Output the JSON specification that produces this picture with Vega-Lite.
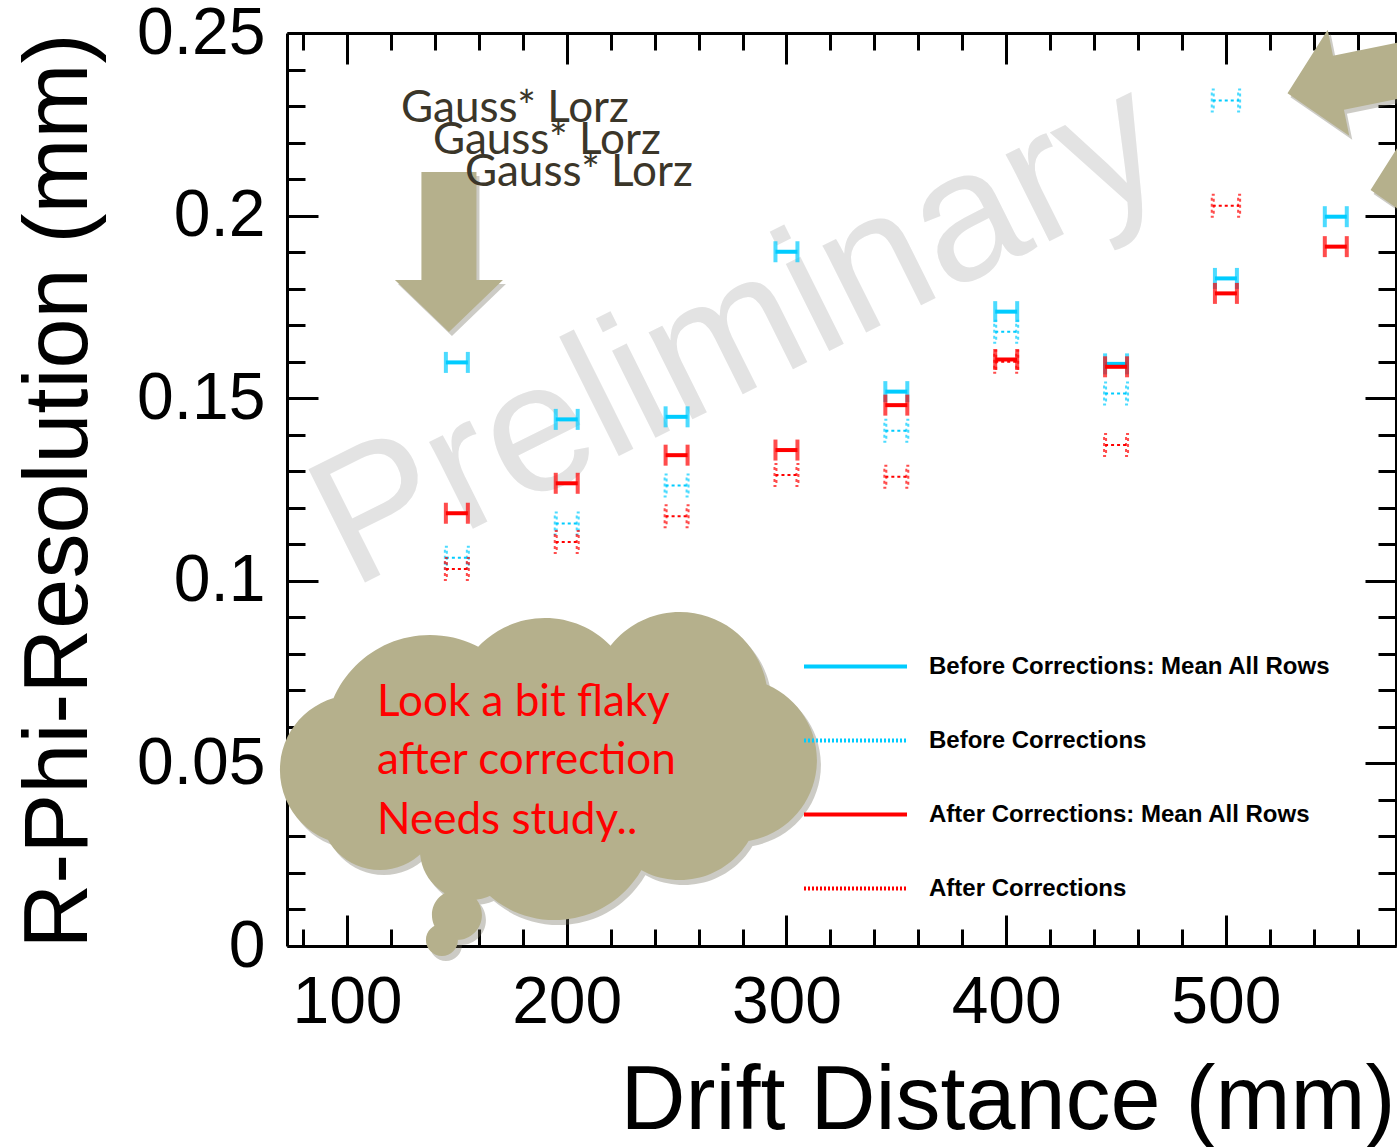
{
  "$schema": "https://vega.github.io/schema/vega-lite/v6.json",
  "width": 1109,
  "height": 913,
  "autosize": {"type": "none"},
  "padding": {"left": 287, "top": 33, "right": 1, "bottom": 201},
  "background": "white",
  "config": {"view": {"stroke": null}, "font": "Liberation Sans"},
  "datasets": {
    "pts": [
      {"series": "Before Corrections: Mean All Rows", "x": 150, "y": 0.1598, "xerr": 5},
      {"series": "Before Corrections: Mean All Rows", "x": 200, "y": 0.1442, "xerr": 5},
      {"series": "Before Corrections: Mean All Rows", "x": 250, "y": 0.1449, "xerr": 5},
      {"series": "Before Corrections: Mean All Rows", "x": 300, "y": 0.1901, "xerr": 5},
      {"series": "Before Corrections: Mean All Rows", "x": 350, "y": 0.1518, "xerr": 5},
      {"series": "Before Corrections: Mean All Rows", "x": 400, "y": 0.1737, "xerr": 5},
      {"series": "Before Corrections: Mean All Rows", "x": 450, "y": 0.1594, "xerr": 5},
      {"series": "Before Corrections: Mean All Rows", "x": 500, "y": 0.1828, "xerr": 5},
      {"series": "Before Corrections: Mean All Rows", "x": 550, "y": 0.1997, "xerr": 5},
      {"series": "Before Corrections", "x": 150, "y": 0.1063, "xerr": 5},
      {"series": "Before Corrections", "x": 200, "y": 0.1157, "xerr": 5},
      {"series": "Before Corrections", "x": 250, "y": 0.1261, "xerr": 5},
      {"series": "Before Corrections", "x": 350, "y": 0.1411, "xerr": 5},
      {"series": "Before Corrections", "x": 400, "y": 0.1682, "xerr": 5},
      {"series": "Before Corrections", "x": 450, "y": 0.1513, "xerr": 5},
      {"series": "Before Corrections", "x": 500, "y": 0.2315, "xerr": 6},
      {"series": "After Corrections: Mean All Rows", "x": 150, "y": 0.1185, "xerr": 5},
      {"series": "After Corrections: Mean All Rows", "x": 200, "y": 0.1267, "xerr": 5},
      {"series": "After Corrections: Mean All Rows", "x": 250, "y": 0.1344, "xerr": 5},
      {"series": "After Corrections: Mean All Rows", "x": 300, "y": 0.1358, "xerr": 5},
      {"series": "After Corrections: Mean All Rows", "x": 350, "y": 0.1481, "xerr": 5},
      {"series": "After Corrections: Mean All Rows", "x": 400, "y": 0.1606, "xerr": 5},
      {"series": "After Corrections: Mean All Rows", "x": 450, "y": 0.1586, "xerr": 5},
      {"series": "After Corrections: Mean All Rows", "x": 500, "y": 0.1787, "xerr": 5},
      {"series": "After Corrections: Mean All Rows", "x": 550, "y": 0.1915, "xerr": 5},
      {"series": "After Corrections", "x": 150, "y": 0.1032, "xerr": 5},
      {"series": "After Corrections", "x": 200, "y": 0.1106, "xerr": 5},
      {"series": "After Corrections", "x": 250, "y": 0.1177, "xerr": 5},
      {"series": "After Corrections", "x": 300, "y": 0.1290, "xerr": 5},
      {"series": "After Corrections", "x": 350, "y": 0.1285, "xerr": 5},
      {"series": "After Corrections", "x": 400, "y": 0.1600, "xerr": 5},
      {"series": "After Corrections", "x": 450, "y": 0.1372, "xerr": 5},
      {"series": "After Corrections", "x": 500, "y": 0.2027, "xerr": 6}
    ],
    "watermark": [{"label": "Preliminary", "x": 278.3, "y": 0.1674}],
    "arrowDown": [{"x": 146.4, "y": 0.190}],
    "arrowsLeft": [{"x": 563.7, "y": 0.2379}, {"x": 601.5, "y": 0.2114}],
    "cloud": [{"x": 191.9, "y": 0.0468}],
    "cloudText": [
      {"label": "Look a bit flaky", "x": 113.7, "y": 0.0630},
      {"label": "after correction", "x": 113.7, "y": 0.0471},
      {"label": "Needs study..", "x": 113.7, "y": 0.0307}
    ],
    "gauss": [
      {"label": "Gauss* Lorz", "x": 124.6, "y": 0.2256},
      {"label": "Gauss* Lorz", "x": 139.1, "y": 0.2169},
      {"label": "Gauss* Lorz", "x": 153.7, "y": 0.2081}
    ]
  },
  "layer": [
    {
      "data": {"name": "watermark"},
      "mark": {"type": "text", "angle": 333.5, "fontSize": 184, "font": "Liberation Sans", "color": "#e3e3e3", "align": "center", "baseline": "middle"},
      "encoding": {
        "x": {"field": "x", "type": "quantitative", "scale": {"domain": [72.7, 577.4], "nice": false, "zero": false},
          "axis": {"orient": "bottom", "values": [80,100,120,140,160,180,200,220,240,260,280,300,320,340,360,380,400,420,440,460,480,500,520,540,560],
            "labelExpr": "datum.value % 100 === 0 ? datum.label : ''",
            "tickSize": {"condition": {"test": "datum.value % 100 === 0", "value": -31}, "value": -17},
            "tickWidth": 3, "tickColor": "black", "domainWidth": 3, "domainColor": "black",
            "labelFont": "Liberation Sans", "labelFontSize": 66, "labelColor": "black", "labelPadding": 55,
            "labelFlush": false, "labelOverlap": false, "labelBound": false, "grid": false,
            "title": "Drift Distance (mm)", "titleFont": "Liberation Sans", "titleFontSize": 90, "titleFontWeight": "normal", "titleColor": "black",
            "titleAnchor": "end", "titleAlign": "right", "titleBaseline": "alphabetic", "titleX": 1108, "titleY": 182}},
        "y": {"field": "y", "type": "quantitative", "scale": {"domain": [0, 0.25], "nice": false, "zero": false},
          "axis": {"orient": "left", "values": [0,0.01,0.02,0.03,0.04,0.05,0.06,0.07,0.08,0.09,0.1,0.11,0.12,0.13,0.14,0.15,0.16,0.17,0.18,0.19,0.2,0.21,0.22,0.23,0.24,0.25],
            "format": "~g",
            "labelExpr": "abs(datum.value*20-round(datum.value*20)) < 0.001 ? datum.label : ''",
            "tickSize": {"condition": {"test": "abs(datum.value*20-round(datum.value*20)) < 0.001", "value": -31}, "value": -18},
            "tickWidth": 3, "tickColor": "black", "domainWidth": 3, "domainColor": "black",
            "labelFont": "Liberation Sans", "labelFontSize": 66, "labelColor": "black", "labelPadding": 53,
            "labelFlush": false, "labelOverlap": false, "labelBound": false, "grid": false,
            "title": "R-Phi-Resolution (mm)", "titleFont": "Liberation Sans", "titleFontSize": 90, "titleFontWeight": "normal", "titleColor": "black",
            "titleAngle": 270, "titleAnchor": "end", "titleAlign": "right", "titleBaseline": "alphabetic", "titleX": -201, "titleY": 0}},
        "text": {"field": "label", "type": "nominal"}
      }
    },
    {
      "data": {"name": "arrowDown"},
      "mark": {"type": "point", "shape": "M-0.344,-1L0.344,-1L0.344,0.35L0.675,0.35L0,1L-0.675,0.35L-0.344,0.35Z", "size": 25600, "filled": true, "color": "#6e6a58", "opacity": 0.35, "strokeWidth": 0, "xOffset": 3, "yOffset": 4},
      "encoding": {
        "x": {"field": "x", "type": "quantitative", "scale": {"domain": [72.7, 577.4], "nice": false, "zero": false},
          "axis": {"orient": "top", "values": [80,100,120,140,160,180,200,220,240,260,280,300,320,340,360,380,400,420,440,460,480,500,520,540,560],
            "labels": false,
            "tickSize": {"condition": {"test": "datum.value % 100 === 0", "value": -31}, "value": -17},
            "tickWidth": 3, "tickColor": "black", "domainWidth": 3, "domainColor": "black", "grid": false, "title": null}},
        "y": {"field": "y", "type": "quantitative", "scale": {"domain": [0, 0.25], "nice": false, "zero": false},
          "axis": {"orient": "right", "values": [0,0.01,0.02,0.03,0.04,0.05,0.06,0.07,0.08,0.09,0.1,0.11,0.12,0.13,0.14,0.15,0.16,0.17,0.18,0.19,0.2,0.21,0.22,0.23,0.24,0.25],
            "labels": false,
            "tickSize": {"condition": {"test": "abs(datum.value*20-round(datum.value*20)) < 0.001", "value": -31}, "value": -18},
            "tickWidth": 3, "tickColor": "black", "domainWidth": 3, "domainColor": "black", "grid": false, "title": null}}
      }
    },
    {
      "data": {"name": "arrowDown"},
      "mark": {"type": "point", "shape": "M-0.344,-1L0.344,-1L0.344,0.35L0.675,0.35L0,1L-0.675,0.35L-0.344,0.35Z", "size": 25600, "filled": true, "color": "#b5b08c", "opacity": 1, "strokeWidth": 0},
      "encoding": {
        "x": {"field": "x", "type": "quantitative", "axis": null},
        "y": {"field": "y", "type": "quantitative", "axis": null}
      }
    },
    {
      "data": {"name": "pts"},
      "transform": [{"filter": "datum.series === 'Before Corrections'"}],
      "mark": {"type": "errorbar", "color": "#00ccff", "size": 22, "thickness": 2, "ticks": {"filled": false, "strokeDash": [3, 3], "strokeWidth": 2}, "rule": {"strokeDash": [3, 3]}},
      "encoding": {
        "x": {"field": "x", "type": "quantitative", "axis": null},
        "xError": {"field": "xerr"},
        "y": {"field": "y", "type": "quantitative", "axis": null}
      }
    },
    {
      "data": {"name": "pts"},
      "transform": [{"filter": "datum.series === 'Before Corrections: Mean All Rows'"}],
      "mark": {"type": "errorbar", "color": "#00ccff", "size": 21, "thickness": 4, "ticks": true},
      "encoding": {
        "x": {"field": "x", "type": "quantitative", "axis": null},
        "xError": {"field": "xerr"},
        "y": {"field": "y", "type": "quantitative", "axis": null}
      }
    },
    {
      "data": {"name": "pts"},
      "transform": [{"filter": "datum.series === 'After Corrections'"}],
      "mark": {"type": "errorbar", "color": "#ff0000", "size": 22, "thickness": 2, "ticks": {"filled": false, "strokeDash": [3, 3], "strokeWidth": 2}, "rule": {"strokeDash": [3, 3]}},
      "encoding": {
        "x": {"field": "x", "type": "quantitative", "axis": null},
        "xError": {"field": "xerr"},
        "y": {"field": "y", "type": "quantitative", "axis": null}
      }
    },
    {
      "data": {"name": "pts"},
      "transform": [{"filter": "datum.series === 'After Corrections: Mean All Rows'"}],
      "mark": {"type": "errorbar", "color": "#ff0000", "size": 21, "thickness": 4, "ticks": true},
      "encoding": {
        "x": {"field": "x", "type": "quantitative", "axis": null},
        "xError": {"field": "xerr"},
        "y": {"field": "y", "type": "quantitative", "axis": null}
      }
    },
    {
      "data": {"name": "pts"},
      "mark": {"type": "line"},
      "encoding": {
        "x": {"field": "x", "type": "quantitative", "axis": null},
        "y": {"field": "y", "type": "quantitative", "axis": null},
        "detail": {"field": "x", "type": "nominal"},
        "color": {"field": "series", "type": "nominal",
          "scale": {"domain": ["Before Corrections: Mean All Rows", "Before Corrections", "After Corrections: Mean All Rows", "After Corrections"], "range": ["#00ccff", "#00ccff", "#ff0000", "#ff0000"]},
          "legend": {"orient": "none", "legendX": 515, "legendY": 580, "direction": "vertical", "title": null, "padding": 0,
            "symbolType": "stroke", "symbolSize": 10609, "symbolStrokeWidth": 4,
            "labelFont": "Liberation Sans", "labelFontSize": 24, "labelFontWeight": "bold", "labelColor": "black", "labelOffset": 20, "labelLimit": 600,
            "rowPadding": 8}},
        "strokeDash": {"field": "series", "type": "nominal",
          "scale": {"domain": ["Before Corrections: Mean All Rows", "Before Corrections", "After Corrections: Mean All Rows", "After Corrections"], "range": [[1, 0], [2, 2], [1, 0], [2, 2]]},
          "legend": {"orient": "none", "legendX": 515, "legendY": 580, "direction": "vertical", "title": null, "padding": 0,
            "symbolType": "stroke", "symbolSize": 10609, "symbolStrokeWidth": 4,
            "labelFont": "Liberation Sans", "labelFontSize": 24, "labelFontWeight": "bold", "labelColor": "black", "labelOffset": 20, "labelLimit": 600,
            "rowPadding": 8}}
      }
    },
    {
      "data": {"name": "cloud"},
      "mark": {"type": "point", "filled": true, "color": "#6e6a58", "opacity": 0.35, "strokeWidth": 0, "size": 291600, "xOffset": 4, "yOffset": 5,
        "shape": "M-0.8296,-0.1296A0.3889,0.3889,0,1,0,-0.0518,-0.1296A0.3889,0.3889,0,1,0,-0.8296,-0.1296ZM-0.3555,-0.2407A0.3407,0.3407,0,1,0,0.3259,-0.2407A0.3407,0.3407,0,1,0,-0.3555,-0.2407ZM0.1593,-0.2778A0.3259,0.3259,0,1,0,0.8111,-0.2778A0.3259,0.3259,0,1,0,0.1593,-0.2778ZM0.3852,-0.0556A0.3037,0.3037,0,1,0,0.9926,-0.0556A0.3037,0.3037,0,1,0,0.3852,-0.0556ZM-0.9963,-0.0185A0.2778,0.2778,0,1,0,-0.4407,-0.0185A0.2778,0.2778,0,1,0,-0.9963,-0.0185ZM-0.8481,0.1296A0.2222,0.2222,0,1,0,-0.4037,0.1296A0.2222,0.2222,0,1,0,-0.8481,0.1296ZM-0.3482,0.1667A0.3704,0.3704,0,1,0,0.3926,0.1667A0.3704,0.3704,0,1,0,-0.3482,0.1667ZM0.1889,0.0926A0.2963,0.2963,0,1,0,0.7815,0.0926A0.2963,0.2963,0,1,0,0.1889,0.0926ZM-0.4037,-0.0185A0.3704,0.3704,0,1,0,0.3371,-0.0185A0.3704,0.3704,0,1,0,-0.4037,-0.0185ZM-0.4778,0.2778A0.1852,0.1852,0,1,0,-0.1074,0.2778A0.1852,0.1852,0,1,0,-0.4778,0.2778ZM-0.4333,0.5185A0.0926,0.0926,0,1,0,-0.2481,0.5185A0.0926,0.0926,0,1,0,-0.4333,0.5185ZM-0.4556,0.6111A0.0593,0.0593,0,1,0,-0.337,0.6111A0.0593,0.0593,0,1,0,-0.4556,0.6111Z"},
      "encoding": {
        "x": {"field": "x", "type": "quantitative", "axis": null},
        "y": {"field": "y", "type": "quantitative", "axis": null}
      }
    },
    {
      "data": {"name": "cloud"},
      "mark": {"type": "point", "filled": true, "color": "#b5b08c", "opacity": 1, "strokeWidth": 0, "size": 291600,
        "shape": "M-0.8296,-0.1296A0.3889,0.3889,0,1,0,-0.0518,-0.1296A0.3889,0.3889,0,1,0,-0.8296,-0.1296ZM-0.3555,-0.2407A0.3407,0.3407,0,1,0,0.3259,-0.2407A0.3407,0.3407,0,1,0,-0.3555,-0.2407ZM0.1593,-0.2778A0.3259,0.3259,0,1,0,0.8111,-0.2778A0.3259,0.3259,0,1,0,0.1593,-0.2778ZM0.3852,-0.0556A0.3037,0.3037,0,1,0,0.9926,-0.0556A0.3037,0.3037,0,1,0,0.3852,-0.0556ZM-0.9963,-0.0185A0.2778,0.2778,0,1,0,-0.4407,-0.0185A0.2778,0.2778,0,1,0,-0.9963,-0.0185ZM-0.8481,0.1296A0.2222,0.2222,0,1,0,-0.4037,0.1296A0.2222,0.2222,0,1,0,-0.8481,0.1296ZM-0.3482,0.1667A0.3704,0.3704,0,1,0,0.3926,0.1667A0.3704,0.3704,0,1,0,-0.3482,0.1667ZM0.1889,0.0926A0.2963,0.2963,0,1,0,0.7815,0.0926A0.2963,0.2963,0,1,0,0.1889,0.0926ZM-0.4037,-0.0185A0.3704,0.3704,0,1,0,0.3371,-0.0185A0.3704,0.3704,0,1,0,-0.4037,-0.0185ZM-0.4778,0.2778A0.1852,0.1852,0,1,0,-0.1074,0.2778A0.1852,0.1852,0,1,0,-0.4778,0.2778ZM-0.4333,0.5185A0.0926,0.0926,0,1,0,-0.2481,0.5185A0.0926,0.0926,0,1,0,-0.4333,0.5185ZM-0.4556,0.6111A0.0593,0.0593,0,1,0,-0.337,0.6111A0.0593,0.0593,0,1,0,-0.4556,0.6111Z"},
      "encoding": {
        "x": {"field": "x", "type": "quantitative", "axis": null},
        "y": {"field": "y", "type": "quantitative", "axis": null}
      }
    },
    {
      "data": {"name": "cloudText"},
      "mark": {"type": "text", "font": "Lato", "fontSize": 44, "color": "#ff0000", "align": "left", "baseline": "alphabetic"},
      "encoding": {
        "x": {"field": "x", "type": "quantitative", "axis": null},
        "y": {"field": "y", "type": "quantitative", "axis": null},
        "text": {"field": "label", "type": "nominal"}
      }
    },
    {
      "data": {"name": "gauss"},
      "mark": {"type": "text", "font": "Lato", "fontSize": 44, "color": "#3b3629", "align": "left", "baseline": "alphabetic"},
      "encoding": {
        "x": {"field": "x", "type": "quantitative", "axis": null},
        "y": {"field": "y", "type": "quantitative", "axis": null},
        "text": {"field": "label", "type": "nominal"}
      }
    },
    {
      "data": {"name": "arrowsLeft"},
      "mark": {"type": "point", "shape": "M-0.344,-1L0.344,-1L0.344,0.35L0.675,0.35L0,1L-0.675,0.35L-0.344,0.35Z", "size": 25600, "angle": 78.5, "filled": true, "color": "#6e6a58", "opacity": 0.35, "strokeWidth": 0, "xOffset": 3, "yOffset": 4},
      "encoding": {
        "x": {"field": "x", "type": "quantitative", "axis": null},
        "y": {"field": "y", "type": "quantitative", "axis": null}
      }
    },
    {
      "data": {"name": "arrowsLeft"},
      "mark": {"type": "point", "shape": "M-0.344,-1L0.344,-1L0.344,0.35L0.675,0.35L0,1L-0.675,0.35L-0.344,0.35Z", "size": 25600, "angle": 78.5, "filled": true, "color": "#b5b08c", "opacity": 1, "strokeWidth": 0},
      "encoding": {
        "x": {"field": "x", "type": "quantitative", "axis": null},
        "y": {"field": "y", "type": "quantitative", "axis": null}
      }
    }
  ],
  "resolve": {"axis": {"x": "independent", "y": "independent"}}
}
